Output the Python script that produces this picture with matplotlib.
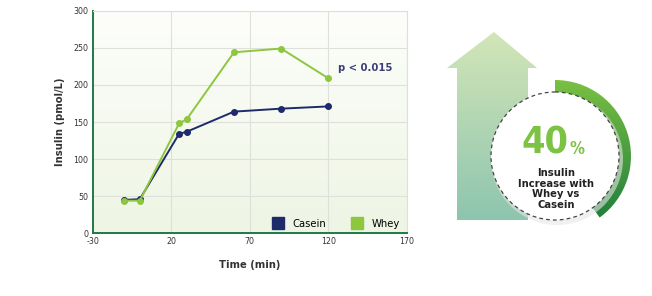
import matplotlib
matplotlib.use("Agg")
import matplotlib.pyplot as plt
import numpy as np
from matplotlib.patches import Polygon, Circle, Wedge
from matplotlib.lines import Line2D
from matplotlib.colors import LinearSegmentedColormap

plt.rcParams['font.family'] = ['DejaVu Sans']
plt.rcParams['font.stretch'] = 'condensed'
plt.rcParams['axes.unicode_minus'] = False

# data
time_min = [-10, 0, 25, 30, 60, 90, 120]
casein = [45, 46, 134, 137, 164, 168, 171]
whey = [44, 44, 148, 154, 244, 249, 209]
pct_increase = 40

navy = '#1e2a6a'
green = '#8dc63f'
dkgreen = '#1e7a45'

fig = plt.figure(figsize=(6.52, 2.96), dpi=100)

# ---- chart ----
ax = fig.add_axes([0.1422, 0.2118, 0.4816, 0.752])
bg = LinearSegmentedColormap.from_list('bg', ['#eef5e4', '#fdfefb'])
ax.imshow(np.linspace(0, 1, 100).reshape(-1, 1), cmap=bg, aspect='auto',
          extent=[-30, 170, 0, 300], origin='lower', zorder=0)
ax.set_xlim(-30, 170)
ax.set_ylim(0, 300)
ax.set_xticks([-30, 20, 70, 120, 170])
ax.set_yticks(range(0, 301, 50))
ax.grid(True, color='#e0e0da', linewidth=0.8, zorder=1)
for s in ['top', 'right']:
    ax.spines[s].set_color('#e0e0da')
    ax.spines[s].set_linewidth(0.8)
for s in ['left', 'bottom']:
    ax.spines[s].set_color(dkgreen)
    ax.spines[s].set_linewidth(1.4)
ax.tick_params(length=0, labelsize=6.3, colors='#333333', pad=3)

ax.plot(time_min, casein, color=navy, lw=1.4, marker='o', ms=4, zorder=3)
ax.plot(time_min, whey, color=green, lw=1.4, marker='o', ms=4, zorder=4)
ax.text(126, 223, 'p < 0.015', color='#3b3f74', fontsize=8, fontweight='bold',
        va='center', ha='left')

ax.set_xlabel('Time (min)', fontsize=8, fontweight='bold', color='#333333', labelpad=10)
ax.set_ylabel('Insulin (pmol/L)', fontsize=8, fontweight='bold', color='#333333', labelpad=6)

handles = [Line2D([], [], marker='s', ls='none', ms=9, color=navy, label='Casein'),
           Line2D([], [], marker='s', ls='none', ms=9, color=green, label='Whey')]
ax.legend(handles=handles, loc='lower right', ncol=2, frameon=False, fontsize=8,
          handletextpad=0.3, columnspacing=1.8, bbox_to_anchor=(1.01, -0.025))

# ---- right-hand graphic, pixel coordinates ----
ov = fig.add_axes([0, 0, 1, 1], zorder=5)
ov.set_xlim(0, 652)
ov.set_ylim(296, 0)
ov.axis('off')

arrow = Polygon([(457, 220), (457, 68), (447, 68), (494, 32), (537, 68),
                 (528, 68), (528, 220)], closed=True, fc='none', ec='none')
ov.add_patch(arrow)
acmap = LinearSegmentedColormap.from_list('ar', ['#d3e6b8', '#8ec5ae'])
im = ov.imshow(np.linspace(0, 1, 100).reshape(-1, 1), cmap=acmap, aspect='auto',
               extent=[445, 540, 220, 30])
im.set_clip_path(arrow)

cx, cy = 555, 156
ov.add_patch(Circle((cx + 2, cy + 3), 66, fc='#e6e6e6', ec='none', alpha=0.6))
ov.add_patch(Circle((cx, cy), 64, fc='white', ec='#444444', lw=0.9, ls=(0, (3, 2.5))))

# y axis is flipped here, so angles run clockwise from the top
ring = Wedge((cx, cy), 76, -90, -90 + 360 * pct_increase / 100, width=15,
             fc='none', ec='none')
ov.add_patch(ring)
rcmap = LinearSegmentedColormap.from_list('rg', ['#7cc243', '#1b7a3c'])
im2 = ov.imshow(np.linspace(0, 1, 100).reshape(-1, 1), cmap=rcmap, aspect='auto',
                extent=[550, 635, 230, 75])
im2.set_clip_path(ring)

ov.text(cx + 13, 143, '40', color='#7cc243', fontsize=27, fontweight='bold',
        ha='right', va='center')
ov.text(cx + 14, 149, '%', color='#7cc243', fontsize=12, fontweight='bold',
        ha='left', va='center')
ov.text(cx + 1, 189, 'Insulin\nIncrease with\nWhey vs\nCasein', color='#222222',
        fontsize=8, fontweight='bold', ha='center', va='center', linespacing=1.05)

fig.savefig('out.png', dpi=100)
